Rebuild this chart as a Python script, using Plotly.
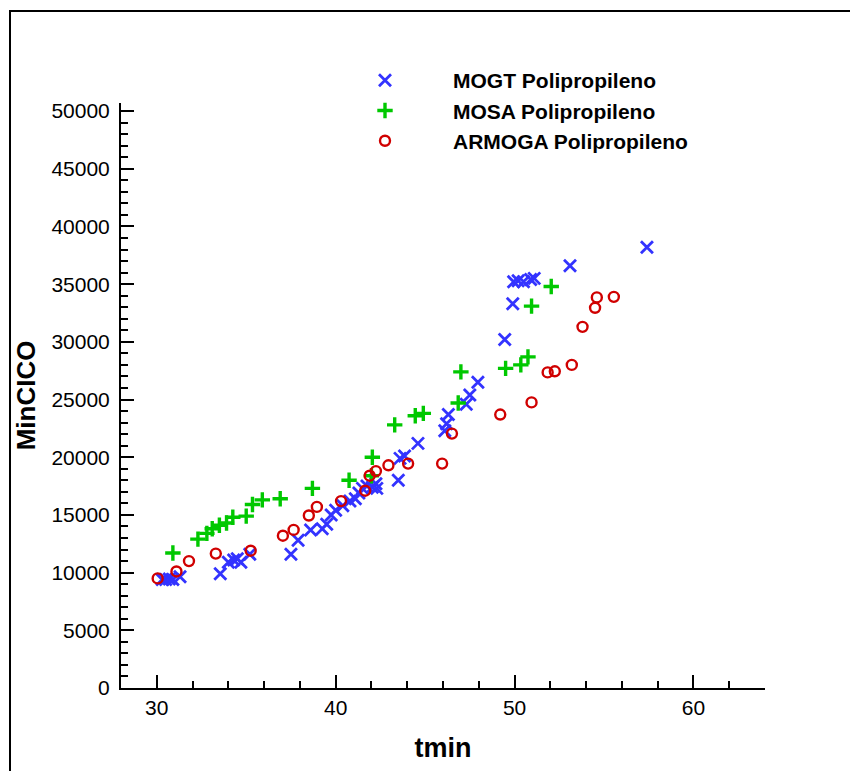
import plotly.graph_objects as go

# MOGT Polipropileno (blue x)
mogt_t = [30.3, 30.5, 30.7, 30.9, 31.3,
          33.55, 34.0, 34.3, 34.5, 34.7, 35.2,
          37.5, 37.9, 38.6, 39.25, 39.5, 39.75, 40.0, 40.4, 40.8, 41.1, 41.3, 41.5, 41.75, 42.05, 42.25, 42.3,
          43.5, 43.6, 43.85, 44.6, 46.1, 46.2, 46.3, 47.3, 47.5, 47.95, 49.45, 49.9, 49.95, 50.2, 50.5, 50.9, 51.1,
          53.1, 57.4]
mogt_c = [9400, 9400, 9450, 9400, 9650,
          9900, 10900, 11100, 11200, 10900, 11600,
          11600, 12800, 13700, 13800, 14200, 15000, 15400, 15800, 16200, 16400, 16900, 17300, 17500, 17400, 17700, 17300,
          18000, 19900, 20100, 21200, 22300, 22900, 23700, 24600, 25400, 26500, 30200, 33300, 35200, 35300, 35200, 35400, 35500,
          36600, 38200]

# MOSA Polipropileno (green +)
mosa_t = [30.9, 32.3, 32.8, 33.1, 33.5, 33.9, 34.25, 35.0, 35.35, 35.9, 36.9,
          38.7, 40.75, 42.0, 42.05, 43.3, 44.45, 44.9, 46.85, 47.0,
          49.5, 50.35, 50.75, 50.95, 52.05]
mosa_c = [11700, 12900, 13400, 13800, 14100, 14300, 14800, 14900, 15900, 16300, 16400,
          17300, 18000, 18400, 20000, 22800, 23600, 23800, 24700, 27400,
          27700, 28000, 28700, 33100, 34800]

# ARMOGA Polipropileno (red o)
armoga_t = [30.05, 31.1, 31.8, 33.3, 35.25, 37.05, 37.65, 38.5, 38.95, 40.3,
            41.65, 41.9, 42.25, 42.95, 44.05, 45.95, 46.5, 49.2, 50.95,
            51.85, 52.25, 53.2, 53.8, 54.5, 54.6, 55.55]
armoga_c = [9500, 10100, 11000, 11650, 11900, 13200, 13700, 14950, 15700, 16200,
            17100, 18400, 18800, 19300, 19450, 19450, 22050, 23700, 24750,
            27350, 27450, 28000, 31300, 32950, 33850, 33900]

names = ["MOGT Polipropileno", "MOSA Polipropileno", "ARMOGA Polipropileno"]
x_ticks = [30, 40, 50, 60]
x_ticktext = ["30", "40", "50", "60"]
y_ticks = [0, 5000, 10000, 15000, 20000, 25000, 30000, 35000, 40000, 45000, 50000]
y_ticktext = ["0", "5000", "10000", "15000", "20000", "25000", "30000", "35000", "40000", "45000", "50000"]

fig = go.Figure()
fig.add_trace(go.Scatter(x=mogt_t, y=mogt_c, mode="markers", name="<b>" + names[0] + "</b>",
                         marker=dict(symbol="x-thin", size=12, color="#3333ff",
                                     line=dict(color="#3333ff", width=2.8))))
fig.add_trace(go.Scatter(x=mosa_t, y=mosa_c, mode="markers", name="<b>" + names[1] + "</b>",
                         marker=dict(symbol="cross-thin", size=11, color="#00c800",
                                     line=dict(color="#00c800", width=3.4))))
fig.add_trace(go.Scatter(x=armoga_t, y=armoga_c, mode="markers", name="<b>" + names[2] + "</b>",
                         marker=dict(symbol="circle-open", size=10, color="#d00000",
                                     line=dict(color="#d00000", width=2.4))))

axis_common = dict(showgrid=False, zeroline=False, showline=True, linecolor="black",
                   linewidth=2, ticks="inside", ticklen=13, tickwidth=2, tickcolor="black",
                   tickfont=dict(family="Arial", size=21, color="black"), mirror=False)

fig.update_xaxes(range=[28, 64], tickvals=x_ticks, ticktext=x_ticktext,
                 minor=dict(dtick=2, ticks="inside", ticklen=7, tickwidth=1.5, tickcolor="black"),
                 title=dict(text="<b>tmin</b>", font=dict(family="Arial", size=27, color="black"), standoff=20),
                 **axis_common)
fig.update_yaxes(range=[0, 50700], tickvals=y_ticks, ticktext=y_ticktext, ticklabelstandoff=5,
                 minor=dict(dtick=1000, ticks="inside", ticklen=7, tickwidth=1.5, tickcolor="black"),
                 title=dict(text="<b>MinCICO</b>", font=dict(family="Arial", size=26, color="black"), standoff=8),
                 **axis_common)

# outer frame around the picture
fig.add_shape(type="rect", xref="paper", yref="paper",
              x0=(2 - 113) / 644, x1=(848 - 113) / 644, y0=-0.3, y1=(680 - 3) / 585,
              line=dict(color="black", width=2), fillcolor="rgba(0,0,0,0)", layer="above")

fig.update_layout(
    width=850, height=763,
    margin=dict(l=113, r=93, t=95, b=83),
    paper_bgcolor="white", plot_bgcolor="white",
    showlegend=True,
    legend=dict(x=(309 - 113) / 644, y=(680 - 52) / 585, xanchor="left", yanchor="top",
                font=dict(family="Arial", size=21, color="black"),
                itemwidth=126, bgcolor="rgba(0,0,0,0)", borderwidth=0, tracegroupgap=0),
)

fig.write_html("out.html")
